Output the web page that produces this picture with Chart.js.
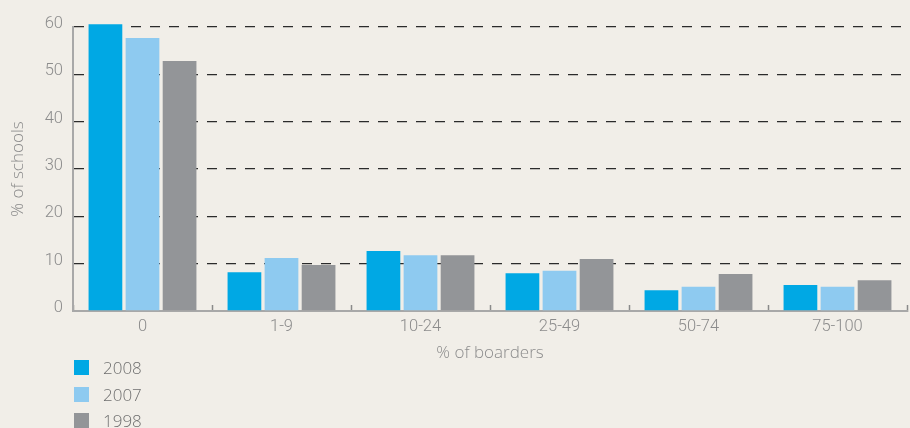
<!DOCTYPE html>
<html>
<head>
<meta charset="utf-8">
<script src="https://cdn.jsdelivr.net/npm/chart.js@4/dist/chart.umd.min.js"></script>
<style>
  html, body { margin: 0; padding: 0; background: #f1eee8; }
  #wrap { position: relative; width: 910px; height: 428px; overflow: hidden; }
  #legend { position: absolute; left: 74px; top: 359px; font-family: "Open Sans", Lato, sans-serif; font-weight: 300; font-size: 17px; color: #6f6f6f; }
  .item { height: 26.5px; display: flex; align-items: flex-start; }
  .sw { width: 15px; height: 15px; margin-top: 1px; margin-right: 14px; }
  .lbl { line-height: 17px; }
</style>
</head>
<body>
<div id="wrap">
  <canvas id="c" width="910" height="428"></canvas>
  <div id="legend"></div>
</div>
<script>
const categories = ["0", "1-9", "10-24", "25-49", "50-74", "75-100"];
const seriesNames = ["2008", "2007", "1998"];
const values2008 = [60.6, 8.2, 12.7, 8.0, 4.4, 5.5];
const values2007 = [57.7, 11.2, 11.8, 8.5, 5.1, 5.1];
const values1998 = [52.8, 9.7, 11.8, 11.0, 7.8, 6.5];
const yTicks = [0, 10, 20, 30, 40, 50, 60];
const colors = ["#00a8e4", "#8ecaf0", "#939598"];

const seriesValues = [values2008, values2007, values1998];
const datasets = seriesNames.map((n, i) => ({
  label: n,
  data: seriesValues[i],
  backgroundColor: colors[i],
  borderWidth: 0,
  categoryPercentage: 0.80,
  barPercentage: 0.91,
  clip: false
}));

const tickFont = { family: 'Roboto', weight: 300, size: 16.5 };
const titleFont = { family: 'Open Sans', weight: 300, size: 17 };

const chart = new Chart(document.getElementById('c'), {
  type: 'bar',
  data: { labels: categories, datasets },
  options: {
    responsive: false,
    animation: false,
    layout: { padding: { top: 27, right: 3, left: 0, bottom: 0 } },
    plugins: { legend: { display: false }, tooltip: { enabled: false } },
    scales: {
      x: {
        grid: { display: true, drawOnChartArea: false, offset: true, tickLength: -6, tickWidth: 1.5, tickColor: '#8a8a8a' },
        border: { display: true, color: '#a8a8a8', width: 2 },
        ticks: { color: '#8c8c8c', padding: 12, font: tickFont },
        title: { display: true, text: '% of boarders', color: '#8c8c8c', padding: { top: 0, bottom: 65 }, font: titleFont },
        afterFit: s => { s.height = 117; }
      },
      y: {
        min: 0, max: 60,
        afterBuildTicks: s => { s.ticks = yTicks.map(v => ({ value: v })); },
        grid: {
          drawTicks: false,
          color: ctx => (ctx.tick && ctx.tick.value === 0) ? 'rgba(0,0,0,0)' : '#2b2b2b',
          lineWidth: 1.3
        },
        border: { display: true, color: '#a8a8a8', width: 2, dash: [10, 9] },
        ticks: { color: '#8c8c8c', padding: 10, labelOffset: -3, font: tickFont },
        title: { display: true, text: '% of schools', color: '#8c8c8c', padding: { top: 8, bottom: 0 }, font: titleFont },
        afterFit: s => { s.width = 73; }
      }
    }
  }
});

const lg = document.getElementById('legend');
chart.data.datasets.forEach(ds => {
  const it = document.createElement('div'); it.className = 'item';
  const sw = document.createElement('div'); sw.className = 'sw'; sw.style.background = ds.backgroundColor;
  const tx = document.createElement('div'); tx.className = 'lbl'; tx.textContent = ds.label;
  it.appendChild(sw); it.appendChild(tx); lg.appendChild(it);
});
</script>
</body>
</html>
